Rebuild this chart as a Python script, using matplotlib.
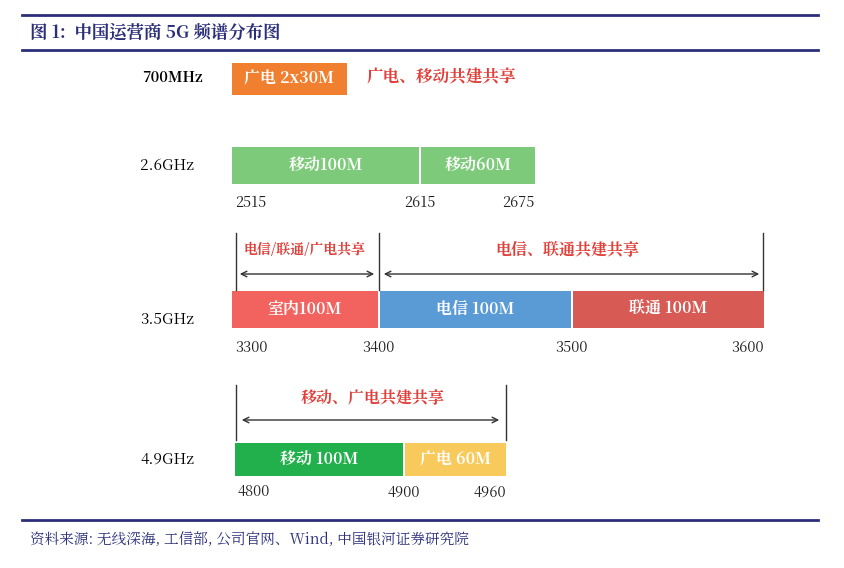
import numpy as np
import matplotlib.pyplot as plt
from matplotlib import font_manager
from matplotlib.patches import Rectangle

cjk = [f.name for f in font_manager.fontManager.ttflist if "CJK" in f.name]
cjk_name = "Noto Sans CJK SC" if "Noto Sans CJK SC" in cjk else (cjk[0] if cjk else "DejaVu Sans")
plt.rcParams["font.family"] = [cjk_name, "DejaVu Sans"]

# ---- data ----
title = "图 1:  中国运营商 5G 频谱分布图"
source = "资料来源: 无线深海, 工信部, 公司官网、Wind, 中国银河证券研究院"

band_names = ["700MHz", "2.6GHz", "3.5GHz", "4.9GHz"]

b26_edges = [2515, 2615, 2675]
b26_labels = ["移动100M", "移动60M"]
b26_colors = ["#7dcb7a", "#7dcb7a"]

b35_edges = [3300, 3400, 3500, 3600]
b35_labels = ["室内100M", "电信 100M", "联通 100M"]
b35_colors = ["#f2625f", "#5b9bd5", "#d85a55"]

b49_edges = [4800, 4900, 4960]
b49_labels = ["移动 100M", "广电 60M"]
b49_colors = ["#21b04b", "#f8ca5c"]

# ---- layout (pixel space of the figure) ----
W, H = 845, 568
fig = plt.figure(figsize=(W / 100, H / 100), dpi=100)
ax = fig.add_axes([0, 0, 1, 1])
ax.set_xlim(0, W)
ax.set_ylim(H, 0)
ax.axis("off")

navy = "#2b2f7a"
red = "#e0403a"
for y in (15, 50, 520):
    ax.plot([22, 818], [y, y], color=navy, lw=2)
ax.text(30, 33, title, color=navy, fontsize=12.5, fontweight="bold", va="center")
ax.text(30, 540, source, color=navy, fontsize=10.5, style="italic", va="center")


def draw_row(edges, px, labels, colors, y0, h, tick_y, gap=2):
    xs = np.interp(edges, edges, px)
    for i, (lab, c) in enumerate(zip(labels, colors)):
        x0 = xs[i] + (gap / 2 if i else 0)
        x1 = xs[i + 1] - (gap / 2 if i < len(labels) - 1 else 0)
        ax.add_patch(Rectangle((x0, y0), x1 - x0, h, color=c, lw=0))
        ax.text((x0 + x1) / 2, y0 + h / 2, lab, color="white", fontsize=11.5,
                fontweight="bold", ha="center", va="center")
    for i, (e, x) in enumerate(zip(edges, xs)):
        ha = "left" if i == 0 else ("right" if i == len(edges) - 1 else "center")
        ax.text(x + (3 if i == 0 else 0), tick_y, str(e), fontsize=10.5,
                color="#222222", ha=ha, va="center")
    return xs


# 700MHz
ax.text(142, 78, band_names[0], fontsize=10.5, fontweight="bold", va="center")
ax.add_patch(Rectangle((232, 63), 115, 32, color="#f08030", lw=0))
ax.text(289, 79, "广电 2x30M", color="white", fontsize=11.5, fontweight="bold",
        ha="center", va="center")
ax.text(367, 78, "广电、移动共建共享", color=red, fontsize=12, fontweight="bold", va="center")

# 2.6GHz
ax.text(140, 166, band_names[1], fontsize=11, va="center")
draw_row(b26_edges, [232, 420, 535], b26_labels, b26_colors, 147, 37, 203)

# 3.5GHz
ax.text(140, 320, band_names[2], fontsize=11, va="center")
xs35 = draw_row(b35_edges, [232, 379, 572, 764], b35_labels, b35_colors, 291, 37, 348)
for x in (236, xs35[1], xs35[3] - 1):
    ax.plot([x, x], [233, 290], color="#333333", lw=1)
arrow = dict(arrowstyle="<->", color="#333333", lw=1)
ax.annotate("", xy=(237, 274), xytext=(xs35[1] - 2, 274), arrowprops=arrow)
ax.annotate("", xy=(xs35[1] + 2, 274), xytext=(xs35[3] - 2, 274), arrowprops=arrow)
ax.text(305, 250, "电信/联通/广电共享", color=red, fontsize=10, fontweight="bold",
        ha="center", va="center")
ax.text(567, 250, "电信、联通共建共享", color=red, fontsize=11.5, fontweight="bold",
        ha="center", va="center")

# 4.9GHz
ax.text(140, 459, band_names[3], fontsize=11, va="center")
xs49 = draw_row(b49_edges, [235, 404, 506], b49_labels, b49_colors, 443, 33, 492)
for x in (xs49[0] + 1, xs49[-1]):
    ax.plot([x, x], [385, 440], color="#333333", lw=1)
ax.annotate("", xy=(xs49[0] + 4, 420), xytext=(xs49[-1] - 4, 420), arrowprops=arrow)
ax.text(373, 399, "移动、广电共建共享", color=red, fontsize=11.5, fontweight="bold",
        ha="center", va="center")

fig.savefig("out.png", dpi=100)
